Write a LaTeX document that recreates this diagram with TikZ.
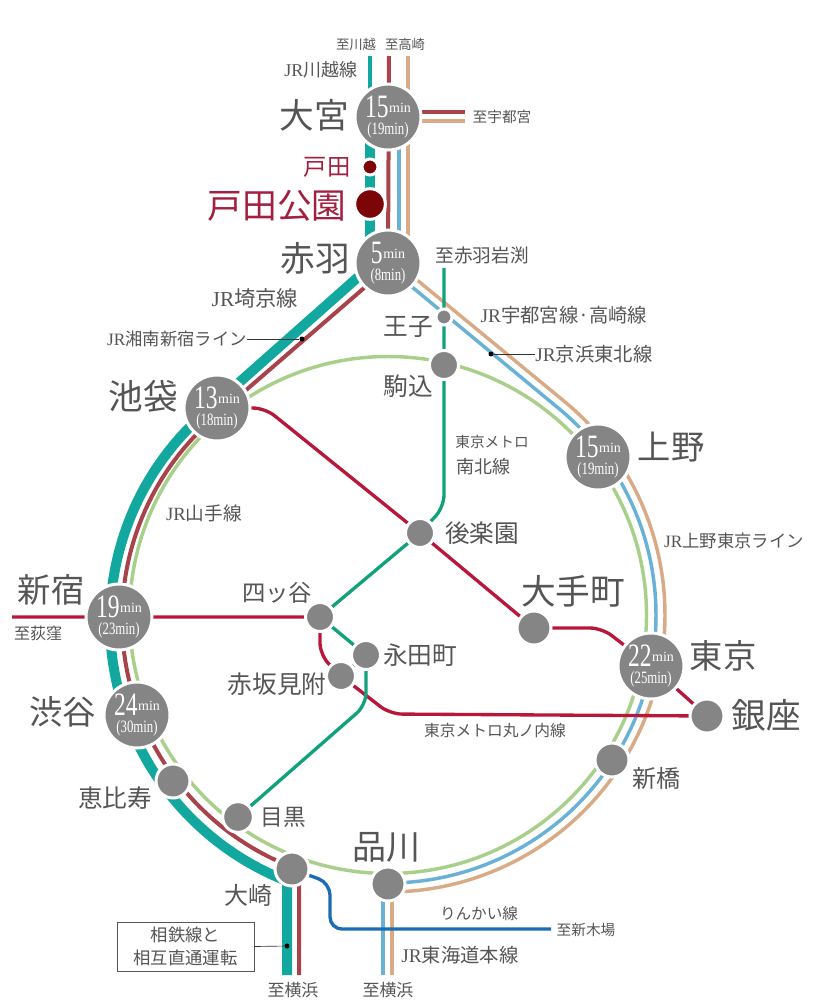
\documentclass[tikz,border=0pt]{standalone}
\usepackage{fontspec}
\usepackage{xcolor}
\setmainfont{Liberation Serif}
\newfontfamily\jpfont{Noto Sans CJK JP}
\usetikzlibrary{positioning, calc, backgrounds}
\definecolor{stationgray}{HTML}{858585}
\definecolor{labelgray}{HTML}{555555}
\definecolor{todared}{HTML}{A31F3F}
\definecolor{tododark}{HTML}{7C0508}
\definecolor{saikyoteal}{HTML}{12A8A0}
\definecolor{shonanred}{HTML}{A8434B}
\definecolor{uenotan}{HTML}{D9AA86}
\definecolor{keihinblue}{HTML}{6AB1D6}
\definecolor{yamagreen}{HTML}{A9D08A}
\definecolor{nambokugreen}{HTML}{11A27C}
\definecolor{maruredline}{HTML}{B8173A}
\definecolor{rinkaiblue}{HTML}{1B6BB5}
\newcommand{\jr}{{\rmfamily JR}}
\newcommand{\hubtime}[2]{\scalebox{.72}[1]{\fontsize{24.5}{24.5}\selectfont #1}\kern.5pt\raisebox{3.5pt}{\fontsize{10.5}{12}\selectfont min}\\\scalebox{.74}[1]{\fontsize{13}{12.75}\selectfont (#2min)}}
\tikzset{
	hub/.style={circle, fill=stationgray, draw=white, line width=2.25pt, minimum size=49.5pt, inner sep=0pt, text=white, align=center, font=\rmfamily\fontsize{13}{12.75}\selectfont},
	stop/.style={circle, fill=stationgray, draw=white, line width=2.25pt, minimum size=25.5pt, inner sep=0pt},
	smallstop/.style={stop, minimum size=21.75pt},
	tinystop/.style={stop, minimum size=12pt},
	lab/.style={text=labelgray, inner sep=0pt, font=\jpfont\fontsize{#1}{#1}\selectfont},
	redlab/.style={lab=#1, text=todared},
	dot/.style={circle, fill=black, inner sep=0pt, minimum size=3.75pt},
	leader/.style={draw=black!80, line width=.5pt},
	rail/.style={line width=2.6pt},
	metro/.style={line width=2.5pt, rounded corners=9pt}
}
\begin{document}
\begin{tikzpicture}[x=0.75pt, y=-0.75pt]
	\useasboundingbox (0,0) rectangle (816,1008);
	\coordinate (loop) at (388,615);
	\coordinate (loopteal) at (388,622);
	\coordinate (loopred) at (388,619);
	\coordinate (kawagoeend) at (370,56);
	\coordinate (takasakiend) at (389,56);
	\coordinate (tokaidoend) at (408,56);
	\coordinate (utsunomiyared) at (465,112);
	\coordinate (utsunomiyatan) at (465,121);
	\coordinate (iwabuchiend) at (444,268);
	\coordinate (ogikuboend) at (12,617);
	\coordinate (yokohamateal) at (287,975);
	\coordinate (yokohamared) at (299,975);
	\coordinate (yokohamablue) at (383,975);
	\coordinate (yokohamatan) at (392,975);
	\coordinate (shinkibaend) at (551,929);

	\node[hub] (omiya) at (388,117) {\hubtime{15}{19}};
	\node[hub] (akabane) at (388,263) {\hubtime{5}{8}};
	\node[hub] (ikebukuro) at (217,408) {\hubtime{13}{18}};
	\node[hub] (shinjuku) at (119,617) {\hubtime{19}{23}};
	\node[hub] (shibuya) at (137,715) {\hubtime{24}{30}};
	\node[hub] (ueno) at (598,457) {\hubtime{15}{19}};
	\node[hub] (tokyo) at (651,666) {\hubtime{22}{25}};
	\node[stop] (ebisu) at (173,781) {};
	\node[stop, minimum size=23pt] (meguro) at (238,817) {};
	\node[stop] (osaki) at (292,869) {};
	\node[stop] (shinagawa) at (388,884) {};
	\node[stop] (shinbashi) at (612,760) {};
	\node[stop] (otemachi) at (534,628) {};
	\node[stop] (ginza) at (707,716) {};
	\node[smallstop] (korakuen) at (420,533) {};
	\node[smallstop] (yotsuya) at (320,617) {};
	\node[smallstop] (nagatacho) at (366,655) {};
	\node[smallstop] (akasaka) at (341,676) {};
	\node[smallstop] (komagome) at (444,365) {};
	\node[tinystop] (oji) at (444,317) {};
	\node[tinystop, fill=tododark] (toda) at (370,167) {};
	\node[stop, minimum size=23pt, fill=tododark] (todakoen) at (370,204) {};

	\node[dot] (shonandot) at (302,339) {};
	\node[dot] (keihindot) at (491,354) {};
	\node[dot] (sotetsudot) at (287,946) {};

	\node[lab=10] (kawagoeto) at (356,44) {至川越};
	\node[lab=10] (takasakito) at (405,44) {至高崎};
	\node[lab=13.5] (kawagoeline) at (321,70) {\jr 川越線};
	\node[lab=26] (omiyat) at (314,115) {大宮};
	\node[lab=11] (utsunomiyato) at (502,117) {至宇都宮};
	\node[redlab=17.5] (todat) at (327,167) {戸田};
	\node[redlab=26] (todakoent) at (277,206) {戸田公園};
	\node[lab=26] (akabanet) at (315,258) {赤羽};
	\node[lab=14] (iwabuchito) at (482,255) {至赤羽岩渕};
	\node[lab=16] (saikyoline) at (255,298) {\jr 埼京線};
	\node[lab=18.5] (ojit) at (408,327) {王子};
	\node[lab=14.5] (utsunomiyaline) at (564,315) {\jr 宇都宮線·高崎線};
	\node[lab=13] (shonanline) at (177,339) {\jr 湘南新宿ライン};
	\node[lab=14.5] (keihinline) at (594,354) {\jr 京浜東北線};
	\node[lab=18.5] (komagomet) at (408,386) {駒込};
	\node[lab=26] (ikebukurot) at (143,396) {池袋};
	\node[lab=11] (metroa) at (492,442) {東京メトロ};
	\node[lab=13.5] (nambokuline) at (483,467) {南北線};
	\node[lab=25] (uenot) at (671,447) {上野};
	\node[lab=14] (yamanoteline) at (204,513) {\jr 山手線};
	\node[lab=18.5] (korakuent) at (482,533) {後楽園};
	\node[lab=13] (uenotokyoline) at (734,541) {\jr 上野東京ライン};
	\node[lab=25] (shinjukut) at (51,590) {新宿};
	\node[lab=26] (otemachit) at (573,591) {大手町};
	\node[lab=17.5] (yotsuyat) at (277,593) {四ッ谷};
	\node[lab=12] (ogikubot) at (38,633) {至荻窪};
	\node[lab=18.5] (nagatachot) at (420,655) {永田町};
	\node[lab=25] (tokyot) at (723,656) {東京};
	\node[lab=18.5] (akasakat) at (277,684) {赤坂見附};
	\node[lab=25] (shibuyat) at (63,712) {渋谷};
	\node[lab=26] (ginzat) at (766,715) {銀座};
	\node[lab=11.8] (marunouchiline) at (495,731) {東京メトロ丸ノ内線};
	\node[lab=18] (shinbashit) at (656,778) {新橋};
	\node[lab=18.5] (ebisut) at (115,798) {恵比寿};
	\node[lab=17] (megurot) at (283,817) {目黒};
	\node[lab=25.5] (shinagawat) at (386,847) {品川};
	\node[lab=18] (osakit) at (248,895) {大崎};
	\node[lab=11.7] (rinkailine) at (479,914) {りんかい線};
	\node[lab=11] (shinkibato) at (586,930) {至新木場};
	\node[lab=14.5] (tokaidoline) at (460,955) {\jr 東海道本線};
	\node[lab=12.7] (yokohamatoa) at (293,990) {至横浜};
	\node[lab=12.7] (yokohamatob) at (388,990) {至横浜};
	\node[draw=labelgray, line width=.6pt, fill=white, minimum width=102.75pt, minimum height=36.75pt, inner sep=0pt, align=center, text=labelgray, font=\jpfont\fontsize{13}{17}\selectfont] (sotetsubox) at (185.5,946.5) {相鉄線と\\相互直通運転};

	\draw[leader] (shonanline.east) -- (shonandot);
	\draw[leader] (keihindot) -- (keihinline.west);
	\draw[leader] (sotetsubox.east) -- (sotetsudot);

	\begin{scope}[on background layer]
		\draw[rail, yamagreen] (loop) circle[radius=258.5];
		\draw[rail, saikyoteal] (kawagoeend) -- ($(omiya)+(-18,0)$);
		\draw[saikyoteal, line width=7.5pt] ($(omiya)+(-18,0)$) -- ($(akabane)+(-18,0)$);
		\draw[saikyoteal, line width=7.5pt] ($(akabane)+(-23.5,8.4)$) -- ($(loopteal)+(-131.5:278)$) arc[start angle=-131.5, end angle=-248.7, radius=278] -- (yokohamateal);
		\draw[rail, shonanred, line width=3pt] (takasakiend) -- (akabane.center);
		\draw[rail, shonanred, line width=3pt] ($(akabane)+(-17,19)$) -- ($(loopred)+(-131:266)$) arc[start angle=-131, end angle=-250.5, radius=266] -- (yokohamared);
		\draw[rail, shonanred, line width=3pt] ($(omiya)+(0,-5)$) -- (utsunomiyared);
		\draw[rail, uenotan] ($(omiya)+(0,4)$) -- (utsunomiyatan);
		\draw[rail, uenotan] (tokaidoend) -- ($(akabane)+(20,0)$);
		\draw[rail, uenotan] ($(akabane)+(23,12)$) -- ($(loop)+(-50.5:277)$) arc[start angle=-50.5, end angle=90, radius=277];
		\draw[rail, uenotan] ($(shinagawa)+(4,0)$) -- (yokohamatan);
		\draw[rail, keihinblue] ($(omiya)+(11,0)$) -- ($(akabane)+(11,0)$);
		\draw[rail, keihinblue] ($(akabane)+(18,19)$) -- ($(loop)+(-50.4:268)$) arc[start angle=-50.4, end angle=90, radius=268];
		\draw[rail, keihinblue] ($(shinagawa)+(-5,0)$) -- (yokohamablue);
		\draw[metro, maruredline] (ogikuboend) -- (yotsuya.center) -- (320,655) -- (akasaka.center) -- (390,714) -- (ginza.center);
		\draw[metro, maruredline] (ikebukuro.center) -- (265,408) -- (korakuen.center) -- (otemachi.center) -- (602,628) -- (tokyo.center) -- (ginza.center);
		\draw[metro, nambokugreen] (iwabuchiend) -- (oji.center) -- (komagome.center) -- (444,507) -- (korakuen.center) -- (yotsuya.center) -- (nagatacho.center) -- (366,705) -- (meguro.center);
		\draw[stationgray, line width=2.5pt] (akasaka) -- (nagatacho);
		\draw[metro, rinkaiblue] (osaki.center) -- (330,883) -- (330,929) -- (shinkibaend);
	\end{scope}
\end{tikzpicture}
\end{document}
